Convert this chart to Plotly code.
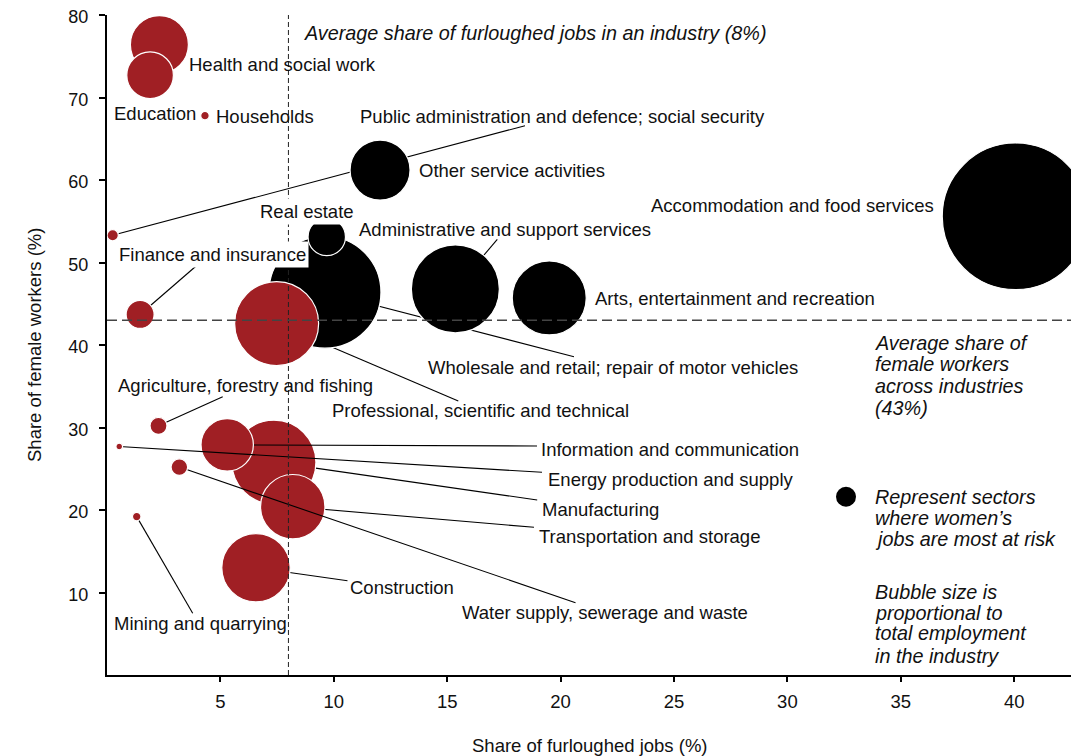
import plotly.graph_objects as go

# ---------------- data ----------------
industries = [
    "Health and social work", "Education", "Households",
    "Public administration and defence; social security", "Other service activities",
    "Wholesale and retail; repair of motor vehicles", "Real estate",
    "Professional, scientific and technical", "Administrative and support services",
    "Arts, entertainment and recreation", "Accommodation and food services",
    "Finance and insurance", "Agriculture, forestry and fishing",
    "Energy production and supply", "Water supply, sewerage and waste",
    "Mining and quarrying", "Information and communication", "Manufacturing",
    "Transportation and storage", "Construction",
]
furloughed_share = [2.31, 1.90, 4.32, 0.25, 12.04, 9.61, 9.69, 7.48, 15.36, 19.50,
                    40.06, 1.46, 2.27, 0.54, 3.19, 1.31, 5.30, 7.36, 8.19, 6.57]
female_share = [76.4, 72.7, 67.8, 53.3, 61.2, 46.4, 53.1, 42.6, 46.8, 45.7,
                55.6, 43.7, 30.2, 27.7, 25.2, 19.2, 27.9, 25.8, 20.4, 13.0]
employment = [841, 543, 18, 32, 900, 3136, 350, 1764, 1936, 1369,
              5373, 196, 72, 11, 69, 18, 686, 1764, 1037, 1170]   # relative, thousands (est.)
avg_furloughed = 8
avg_female = 43
x_ticks = [5, 10, 15, 20, 25, 30, 35, 40]
y_ticks = [10, 20, 30, 40, 50, 60, 70, 80]

# ---------------- layout constants ----------------
PAGE_OFFSET = 8                      # default body margin of the html page
W, H = 1079 - PAGE_OFFSET, 756 - PAGE_OFFSET
M_L, M_T = 107 - PAGE_OFFSET, 15 - PAGE_OFFSET
PW, PH = 965, 660
M_R, M_B = W - M_L - PW, H - M_T - PH
X_RANGE = [0, 42.55]
Y_RANGE = [0, 80]
RED, BLACK = "#A01F24", "#000000"
FONT = "Liberation Sans, Arial, sans-serif"

# reference-pixel helpers (page pixels, plot area starts at 107,15)
PLOT_LEFT, PLOT_BOTTOM = 107, 675


def px2x(px):
    return X_RANGE[0] + (px - PLOT_LEFT) / PW * (X_RANGE[1] - X_RANGE[0])


def py2y(py):
    return Y_RANGE[0] + (PLOT_BOTTOM - py) / PH * (Y_RANGE[1] - Y_RANGE[0])


def px2paper(px):
    return (px - PLOT_LEFT) / PW


def py2paper(py):
    return (PLOT_BOTTOM - py) / PH


# label placement in pixels: (left, middle, leader end or None, white box)
labels = {
    "Health and social work": (188, 64, None, False),
    "Education": (113, 113, None, False),
    "Households": (215, 116, None, False),
    "Public administration and defence; social security": (359, 116.7, (525, 125.7), False),
    "Other service activities": (418.3, 170, None, False),
    "Real estate": (256.7, 211, None, True),
    "Administrative and support services": (358, 229, (497.3, 239.3), False),
    "Accommodation and food services": (650, 205, None, False),
    "Arts, entertainment and recreation": (594.3, 298.3, None, False),
    "Wholesale and retail; repair of motor vehicles": (426.7, 367.3, (574, 356.7), False),
    "Professional, scientific and technical": (331, 410, (458.3, 401), False),
    "Finance and insurance": (116, 254, (197.3, 265), True),
    "Agriculture, forestry and fishing": (116.7, 385.5, (222.7, 396.7), False),
    "Information and communication": (540, 449.3, (537, 446), False),
    "Energy production and supply": (546.7, 479.5, (542, 472.3), False),
    "Manufacturing": (541, 509, (537.2, 500), False),
    "Transportation and storage": (538.3, 536, (534, 527.3), False),
    "Construction": (349.4, 587.7, (347.5, 580.7), False),
    "Water supply, sewerage and waste": (460.5, 612.7, (575.5, 602.7), False),
    "Mining and quarrying": (112.7, 623.3, (192.7, 613.3), False),
}

draw_sequence = [
    ("b", "Health and social work"), ("b", "Education"), ("b", "Households"),
    ("l", "Public administration and defence; social security"),
    ("b", "Public administration and defence; social security"),
    ("b", "Other service activities"),
    ("l", "Professional, scientific and technical"),
    ("l", "Wholesale and retail; repair of motor vehicles"),
    ("b", "Wholesale and retail; repair of motor vehicles"),
    ("b", "Real estate"),
    ("b", "Professional, scientific and technical"),
    ("l", "Administrative and support services"), ("b", "Administrative and support services"),
    ("b", "Arts, entertainment and recreation"), ("b", "Accommodation and food services"),
    ("l", "Finance and insurance"), ("b", "Finance and insurance"),
    ("l", "Agriculture, forestry and fishing"), ("b", "Agriculture, forestry and fishing"),
    ("l", "Manufacturing"), ("b", "Manufacturing"),
    ("l", "Information and communication"), ("b", "Information and communication"),
    ("l", "Transportation and storage"), ("b", "Transportation and storage"),
    ("l", "Energy production and supply"), ("l", "Water supply, sewerage and waste"),
    ("b", "Energy production and supply"), ("b", "Water supply, sewerage and waste"),
    ("l", "Construction"), ("b", "Construction"),
    ("l", "Mining and quarrying"), ("b", "Mining and quarrying"),
]

fig = go.Figure()
for kind, name in draw_sequence:
    i = industries.index(name)
    x, y = furloughed_share[i], female_share[i]
    if kind == "l":
        ex, ey = labels[name][2]
        fig.add_trace(go.Scatter(
            x=[x, px2x(ex)], y=[y, py2y(ey)], mode="lines",
            line=dict(color=BLACK, width=1.1), hoverinfo="skip", showlegend=False))
    else:
        risky = x > avg_furloughed and y > avg_female
        fig.add_trace(go.Scatter(
            x=[x], y=[y], mode="markers", name=name, showlegend=False,
            marker=dict(size=[employment[i]], sizemode="area", sizeref=0.5,
                        color=BLACK if risky else RED, opacity=1,
                        line=dict(color="white", width=1.2)),
            hovertemplate=name + "<extra></extra>"))

annotations = []
for name, (lx, ly, _, box) in labels.items():
    annotations.append(dict(
        x=px2x(lx), y=py2y(ly), xref="x", yref="y", text=name, showarrow=False,
        xanchor="left", yanchor="middle", font=dict(family=FONT, size=18.5, color="#111"),
        bgcolor="white" if box else None, borderpad=2 if box else 0))

notes = [
    ("Average share of furloughed jobs in an industry (8%)", 301.7, 33.3),
    ("Average share of", 873.3, 342.7), ("female workers", 873.3, 364.3),
    ("across industries", 873.3, 386), ("(43%)", 873.3, 407.7),
    ("Represent sectors", 873.3, 496.7), ("where women’s", 873.3, 518.3),
    ("jobs are most at risk", 873.3, 539.3),
    ("Bubble size is", 873.3, 591.7), ("proportional to", 873.3, 612.7),
    ("total employment", 873.3, 633.3), ("in the industry", 873.3, 656),
]
for text, nx, ny in notes:
    annotations.append(dict(
        x=px2paper(nx), y=py2paper(ny), xref="paper", yref="paper",
        text="<i>" + text + "</i>", showarrow=False, xanchor="left", yanchor="middle",
        font=dict(family=FONT, size=19.8, color="#111")))

annotations.append(dict(
    x=0.5, y=0, xref="paper", yref="paper", yshift=-70, text="Share of furloughed jobs (%)",
    showarrow=False, xanchor="center", yanchor="middle",
    font=dict(family=FONT, size=18.5, color="#111")))
annotations.append(dict(
    x=0, y=0.5, xref="paper", yref="paper", xshift=-73, text="Share of female workers (%)",
    textangle=-90, showarrow=False, xanchor="center", yanchor="middle",
    font=dict(family=FONT, size=18.5, color="#111")))

shapes = [
    dict(type="line", xref="x", yref="y", x0=avg_furloughed, x1=avg_furloughed,
         y0=Y_RANGE[0], y1=Y_RANGE[1], layer="above",
         line=dict(color="#222", width=1, dash="5px,3px")),
    dict(type="line", xref="x", yref="y", x0=X_RANGE[0], x1=X_RANGE[1],
         y0=avg_female, y1=avg_female, layer="above",
         line=dict(color="#444", width=1.4, dash="10px,5px")),
    dict(type="circle", xref="paper", yref="paper", xsizemode="pixel", ysizemode="pixel",
         xanchor=px2paper(846), yanchor=py2paper(496.7),
         x0=-10, x1=10, y0=-10, y1=10, fillcolor=BLACK, line=dict(width=0)),
]

fig.update_layout(
    width=W, height=H, margin=dict(l=M_L, r=M_R, t=M_T, b=M_B, pad=0, autoexpand=False),
    paper_bgcolor="white", plot_bgcolor="white", showlegend=False,
    annotations=annotations, shapes=shapes,
    font=dict(family=FONT, color="#111"),
    xaxis=dict(range=X_RANGE, tickvals=x_ticks, showgrid=False, automargin=False,
               zeroline=False, showline=True, linecolor=BLACK, linewidth=2,
               ticks="outside", ticklen=5, tickwidth=1.5, tickcolor=BLACK,
               tickfont=dict(family=FONT, size=18.5, color="#111"), ticklabelstandoff=4,
               ticklabeloverflow="allow"),
    yaxis=dict(range=Y_RANGE, tickvals=y_ticks, showgrid=False, automargin=False,
               zeroline=False, showline=True, linecolor=BLACK, linewidth=2,
               ticks="outside", ticklen=6, tickwidth=1.5, tickcolor=BLACK,
               tickfont=dict(family=FONT, size=18, color="#111"), ticklabelstandoff=7,
               ticklabelshift=2, ticklabeloverflow="allow"),
)

fig.write_html("out.html")
